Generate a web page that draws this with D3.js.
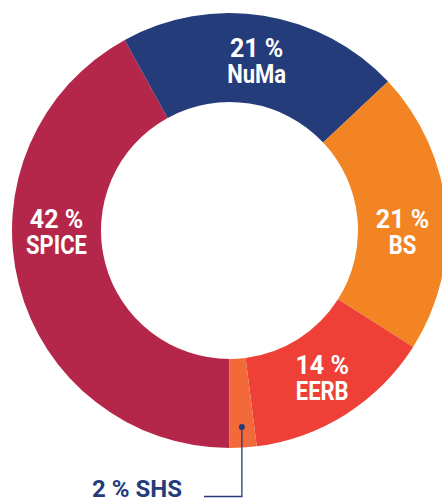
<!DOCTYPE html>
<html>
<head>
<meta charset="utf-8">
<script src="https://cdn.jsdelivr.net/npm/d3@7"></script>
<style>
  html, body { margin: 0; padding: 0; background: #fff; }
  svg { display: block; }
  text { font-family: Roboto, "Liberation Sans", sans-serif; font-weight: bold; }
</style>
</head>
<body>
<script>
// slices, clockwise from the bottom
const categories = ["SPICE", "NuMa", "BS", "EERB", "SHS"];
const shares = [42, 21, 21, 14, 2];
const sliceColors = ["#b5274a", "#253c7b", "#f28423", "#ee4037", "#f26a3a"];

(function(){
  const WIDTH = 442, HEIGHT = 501;
  const cx = 229.5, cy = 230.5;
  const outerR = 217.5, innerR = 128.5;
  const navy = "#253c7b";
  const squeeze = 0.88; // the original type is a condensed face

  // SPICE and BS labels sit level with the hole, the others on the centroid
  const labelAngle = {SPICE: 270, BS: 90};

  const svg = d3.select("body").append("svg")
      .attr("width", WIDTH)
      .attr("height", HEIGHT);

  const g = svg.append("g").attr("transform", `translate(${cx},${cy})`);

  const data = categories.map((c,i)=>({name:c, value:shares[i], color:sliceColors[i]}));

  const pie = d3.pie()
      .sort(null)
      .value(d=>d.value)
      .startAngle(Math.PI)
      .endAngle(3*Math.PI);

  const arc = d3.arc().innerRadius(innerR).outerRadius(outerR);
  const arcs = pie(data);

  g.selectAll("path.slice")
    .data(arcs)
    .enter()
    .append("path")
    .classed("slice", true)
    .attr("d", arc)
    .attr("fill", d=>d.data.color);

  const midR = (innerR+outerR)/2;
  function labelPos(d){
    let a = labelAngle[d.data.name] !== undefined
      ? labelAngle[d.data.name]*Math.PI/180
      : (d.startAngle+d.endAngle)/2;
    return [midR*Math.sin(a), -midR*Math.cos(a)];
  }

  const inside = arcs.filter(d=>d.data.value >= 5);
  const lbl = g.selectAll("g.lbl")
    .data(inside)
    .enter()
    .append("g")
    .classed("lbl", true)
    .attr("transform", d=>`translate(${labelPos(d)})`);

  lbl.append("text")
    .attr("text-anchor", "middle")
    .attr("y", -2.5)
    .attr("fill", "#fff")
    .attr("font-size", 25)
    .text(d=>d.data.value + " %");

  lbl.append("text")
    .attr("text-anchor", "middle")
    .attr("transform", `translate(0,23.5) scale(${squeeze},1)`)
    .attr("fill", "#fff")
    .attr("font-size", 25)
    .text(d=>d.data.name);

  // small slice: callout below the ring
  const small = arcs.filter(d=>d.data.value < 5);
  small.forEach(d=>{
    const a = (d.startAngle+d.endAngle)/2;
    const px = 197*Math.sin(a), py = -197*Math.cos(a);
    const baseY = HEIGHT - 4.5 - cy;
    g.append("path")
      .attr("d", `M${px},${py}V${baseY}H${204-cx}`)
      .attr("fill", "none")
      .attr("stroke", navy)
      .attr("stroke-width", 1.3);
    g.append("circle")
      .attr("cx", px).attr("cy", py).attr("r", 3)
      .attr("fill", navy);
    g.append("text")
      .attr("x", 182-cx)
      .attr("y", baseY+0.5)
      .attr("text-anchor", "end")
      .attr("fill", navy)
      .attr("font-size", 24)
      .text(d.data.value + " % " + d.data.name);
  });
})();
</script>
</body>
</html>
